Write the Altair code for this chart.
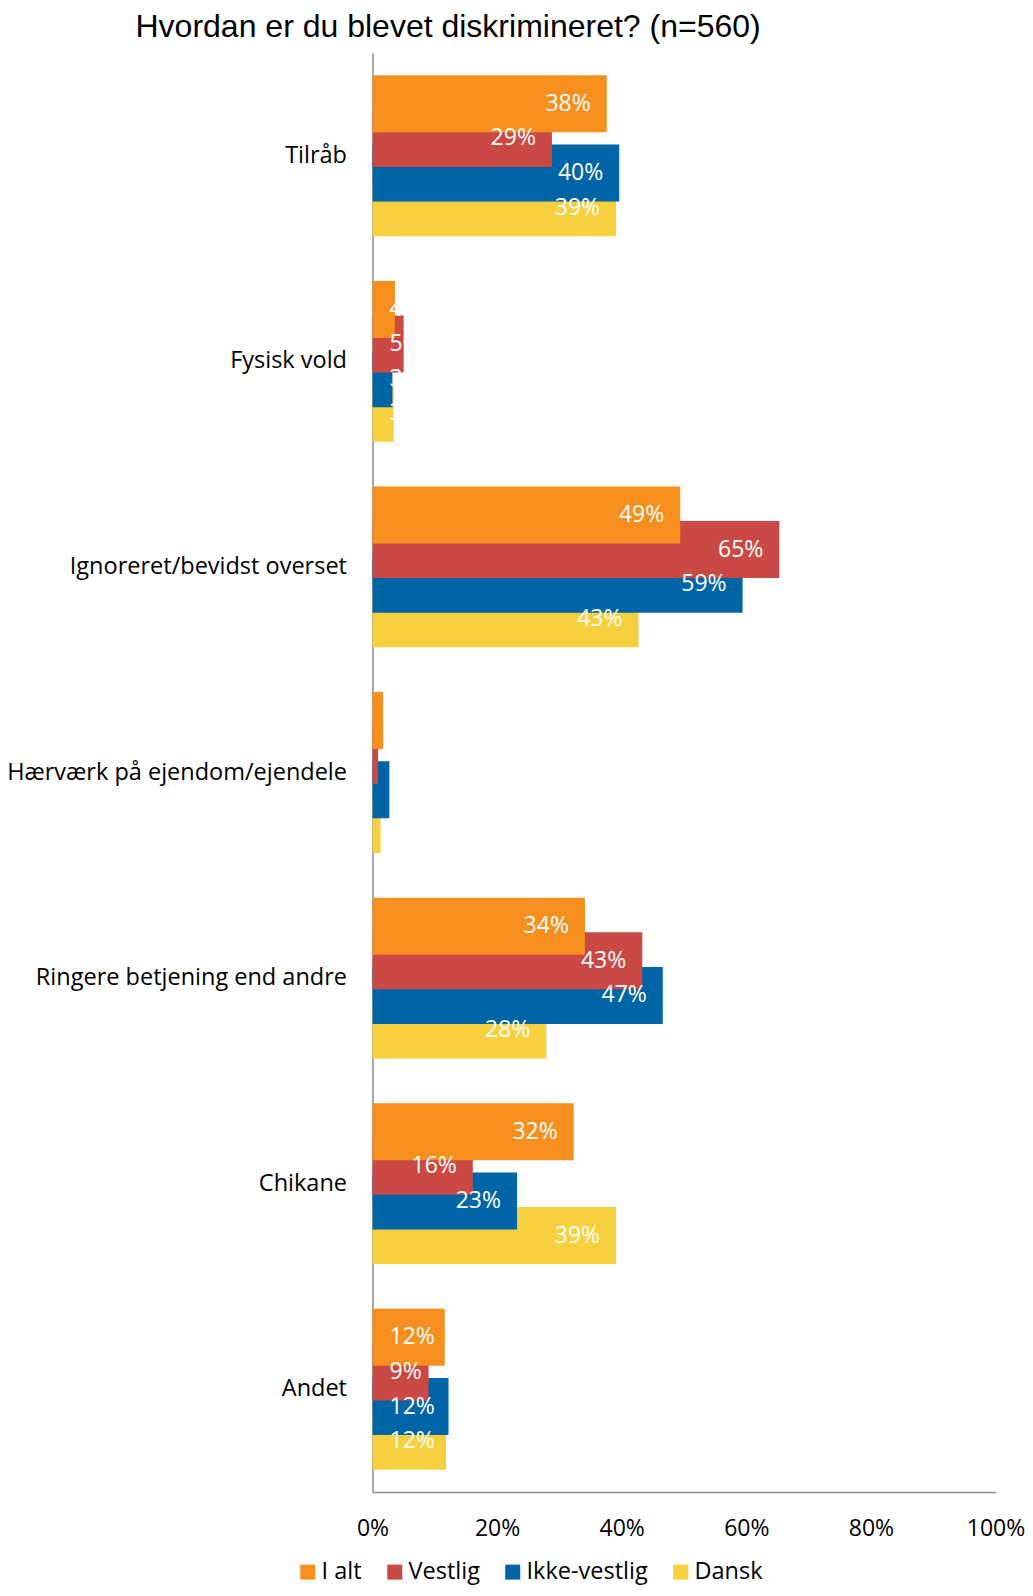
import altair as alt
import pandas as pd

title_text = "Hvordan er du blevet diskrimineret? (n=560)"
categories = [
    "Tilråb",
    "Fysisk vold",
    "Ignoreret/bevidst overset",
    "Hærværk på ejendom/ejendele",
    "Ringere betjening end andre",
    "Chikane",
    "Andet",
]
series = ["I alt", "Vestlig", "Ikke-vestlig", "Dansk"]
colors = ["#F78F1E", "#CB4944", "#0065A6", "#F6D03F"]

i_alt = [37.6, 3.6, 49.4, 1.7, 34.1, 32.3, 11.6]
vestlig = [28.8, 5.0, 65.3, 0.9, 43.3, 16.1, 9.0]
ikke_vestlig = [39.6, 3.2, 59.4, 2.7, 46.6, 23.2, 12.2]
dansk = [39.1, 3.4, 42.7, 1.3, 27.9, 39.1, 11.8]

x_ticks = [0, 0.2, 0.4, 0.6, 0.8, 1.0]

# rows ordered so that "I alt" is drawn last (on top)
rows = []
for s, vals in reversed(list(zip(series, [i_alt, vestlig, ikke_vestlig, dansk]))):
    for c, v in zip(categories, vals):
        rows.append({"kategori": c, "gruppe": s, "andel": v / 100})
df = pd.DataFrame(rows)

FONT = "Open Sans"
FS = 23.5

y_enc = alt.Y(
    "kategori:N",
    sort=categories,
    scale=alt.Scale(paddingInner=0, paddingOuter=0),
    axis=alt.Axis(
        title=None, ticks=False, labelFontSize=FS, labelFont=FONT,
        labelColor="black", labelPadding=26, labelLimit=500,
        domainColor="#8a8a8a", domainWidth=1.5,
    ),
)
yoff_enc = alt.YOffset(
    "gruppe:N", sort=series, scale=alt.Scale(paddingInner=0, paddingOuter=0.97)
)
x_enc = alt.X(
    "andel:Q",
    scale=alt.Scale(domain=[0, 1]),
    axis=alt.Axis(
        values=x_ticks, format=".0%", grid=False, ticks=False, title=None,
        labelFontSize=23, labelFont=FONT, labelColor="black", labelPadding=25,
        domainColor="#8a8a8a", domainWidth=1.5, labelFlush=False,
    ),
)

base = alt.Chart(df)

bars = base.mark_bar(size=57).encode(
    x=x_enc,
    y=y_enc,
    yOffset=yoff_enc,
    color=alt.Color(
        "gruppe:N",
        scale=alt.Scale(domain=series, range=colors),
        legend=alt.Legend(
            title=None, orient="none", legendX=-76.5, legendY=1507,
            direction="horizontal", symbolType="square", symbolSize=225,
            symbolStrokeWidth=0, symbolOpacity=1, labelFontSize=FS,
            labelFont=FONT, labelColor="black", columnPadding=21,
            labelOffset=2, labelLimit=300,
        ),
    ),
)

text_right = base.transform_filter("datum.andel >= 0.13").mark_text(
    align="right", baseline="middle", dx=-16, color="white", fontSize=23, font=FONT
).encode(
    x="andel:Q",
    y=alt.Y("kategori:N", sort=categories),
    yOffset=alt.YOffset("gruppe:N", sort=series),
    text=alt.Text("andel:Q", format=".0%"),
)

text_left = base.transform_filter("datum.andel < 0.13").mark_text(
    align="left", baseline="middle", dx=17, color="white", fontSize=23, font=FONT
).encode(
    x=alt.datum(0),
    y=alt.Y("kategori:N", sort=categories),
    yOffset=alt.YOffset("gruppe:N", sort=series),
    text=alt.Text("andel:Q", format=".0%"),
)

title_mark = alt.Chart(pd.DataFrame({"t": [title_text]})).mark_text(
    align="left", baseline="alphabetic", font="Liberation Sans", fontSize=32,
    color="black",
).encode(x=alt.value(-237), y=alt.value(-16), text="t:N")

chart = alt.layer(bars, text_right, text_left, title_mark).properties(
    width=623,
    height=1439,
    padding={"left": 364.5, "top": 45, "right": 29.5, "bottom": 96},
    autosize=alt.AutoSizeParams(type="none"),
    background="white",
).configure_view(stroke=None)

chart.save("out.html", embed_options={"renderer": "svg", "actions": False})
